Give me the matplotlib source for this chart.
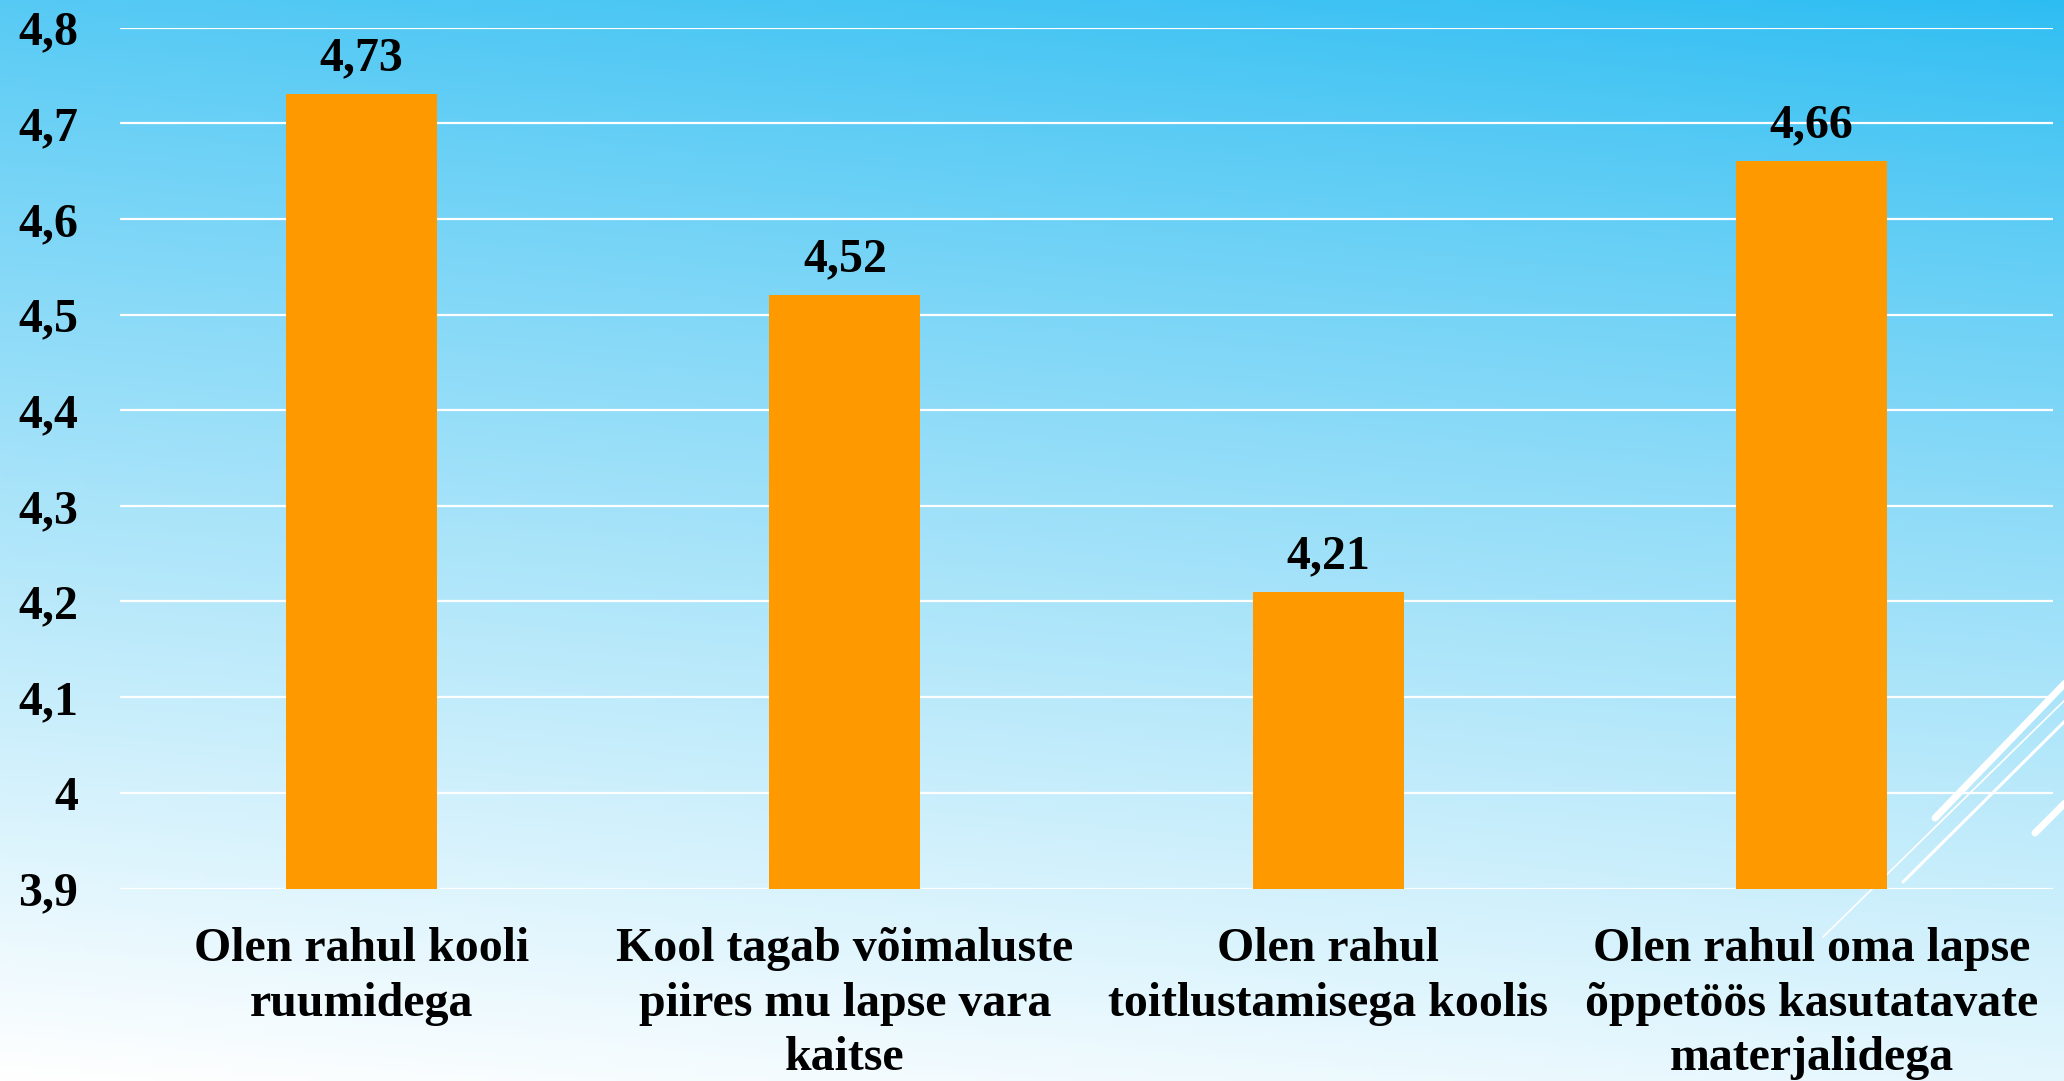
import numpy as np
import matplotlib
matplotlib.use("Agg")
import matplotlib.pyplot as plt
from matplotlib.lines import Line2D

# data
categories = [
    "Olen rahul kooli\nruumidega",
    "Kool tagab võimaluste\npiires mu lapse vara\nkaitse",
    "Olen rahul\ntoitlustamisega koolis",
    "Olen rahul oma lapse\nõppetöös kasutatavate\nmaterjalidega",
]
values = [4.73, 4.52, 4.21, 4.66]
yticks = [3.9, 4.0, 4.1, 4.2, 4.3, 4.4, 4.5, 4.6, 4.7, 4.8]
ytick_labels = ["3,9", "4", "4,1", "4,2", "4,3", "4,4", "4,5", "4,6", "4,7", "4,8"]

plt.rcParams['font.family'] = ['Liberation Serif', 'DejaVu Serif']
plt.rcParams['font.weight'] = 'bold'

W, H = 2064, 1081
fig = plt.figure(figsize=(W / 100, H / 100), dpi=100)

# background gradient (top right deep sky blue -> bottom left white)
bg = fig.add_axes([0, 0, 1, 1], zorder=-10)
yy, xx = np.mgrid[0:1:300j, 0:1:600j]
s = 0.85 * yy + 0.15 * (1 - xx)
s = np.clip(s, 0, 1) ** 0.85
c0 = np.array([45, 189, 242]) / 255
c1 = np.array([255, 255, 255]) / 255
img = c0[None, None, :] * (1 - s[..., None]) + c1[None, None, :] * s[..., None]
bg.imshow(img, aspect='auto', extent=[0, 1, 1, 0])
bg.set_xlim(0, 1)
bg.set_ylim(1, 0)
bg.axis('off')

# decorative white diagonal strokes, bottom right
deco = [
    ((1935, 818), (2070, 678), 5.0),
    ((1823, 937), (2070, 695), 1.2),
    ((1903, 882), (2070, 716), 2.2),
    ((2035, 833), (2070, 798), 5.0),
]
for (x0, y0), (x1, y1), lw in deco:
    fig.add_artist(Line2D([x0 / W, x1 / W], [1 - y0 / H, 1 - y1 / H],
                          transform=fig.transFigure, color='white', lw=lw,
                          solid_capstyle='round', zorder=-5))

ax = fig.add_axes([120 / W, 1 - 888.5 / H, 1933 / W, 861 / H])
ax.patch.set_alpha(0)
x = np.arange(len(categories))
bars = ax.bar(x, values, width=0.3125, color='#ff9900', zorder=3)

ax.set_xlim(-0.5, len(categories) - 0.5)
ax.set_ylim(3.9, 4.8)
ax.set_yticks(yticks)
ax.set_yticklabels(ytick_labels)
ax.set_xticks(x)
ax.set_xticklabels(categories, linespacing=1.31)
ax.tick_params(axis='both', length=0, labelsize=34.5)
ax.tick_params(axis='y', pad=30)
ax.tick_params(axis='x', pad=28)
for lab in ax.get_xticklabels() + ax.get_yticklabels():
    lab.set_fontweight('bold')

ax.grid(axis='y', color='white', lw=1.6, zorder=0)
for sp in ax.spines.values():
    sp.set_visible(False)

for b, v in zip(bars, values):
    ax.annotate(f"{v:.2f}".replace('.', ','), (b.get_x() + b.get_width() / 2, v),
                xytext=(0, 10), textcoords='offset points', ha='center', va='bottom',
                fontsize=34.5, fontweight='bold')

fig.savefig('out.png', dpi=100)
